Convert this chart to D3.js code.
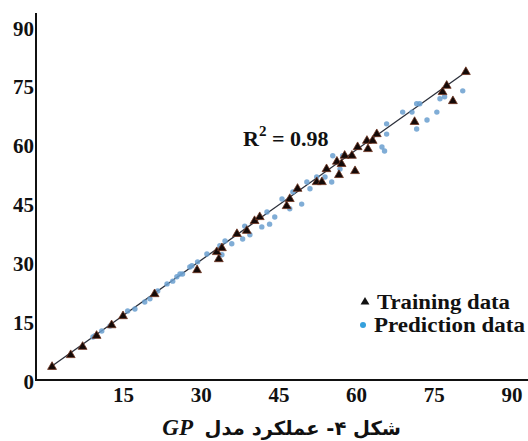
<!DOCTYPE html>
<html>
<head>
<meta charset="utf-8">
<script src="https://cdn.jsdelivr.net/npm/d3@7"></script>
<style>
  body { margin: 0; background: #fff; }
  svg { display: block; }
</style>
</head>
<body>
<div id="chart"></div>
<script>
// GP model performance: observed vs predicted
const xTicks = [15, 30, 45, 60, 75, 90];
const yTicks = [0, 15, 30, 45, 60, 75, 90];

// training data (triangles) [x, y]
const trainX = [1.2, 4.8, 7.1, 9.8, 12.7, 14.9, 21.0, 29.2, 33.0, 33.4, 34.0, 36.9, 38.8, 40.3, 41.3,
  46.5, 47.1, 48.6, 52.3, 53.3, 54.2, 56.2, 56.6, 57.1, 57.7, 59.1, 59.7, 60.2, 62.0, 62.2, 63.1, 63.9,
  71.2, 76.6, 77.4, 78.6, 81.1];
const trainY = [3.6, 6.6, 8.7, 11.5, 14.2, 16.5, 22.1, 28.2, 32.8, 31.0, 33.8, 37.4, 38.2, 40.7, 41.7,
  44.5, 46.3, 48.9, 50.6, 50.6, 53.9, 55.8, 52.4, 55.2, 57.3, 57.3, 53.4, 59.5, 61.1, 59.0, 61.1, 62.8,
  65.9, 73.5, 75.1, 71.2, 78.6];

// prediction data (dots)
const predX = [9.1, 9.5, 10.8, 12.4, 15.8, 17.2, 19.1, 20.1, 21.6, 23.4, 24.5, 25.3, 25.9, 26.4, 27.8,
  28.2, 29.3, 31.1, 33.6, 34.0, 34.6, 35.9, 38.0, 38.4, 39.4, 41.7, 42.7, 43.2, 44.2, 45.6, 47.1, 47.7,
  49.4, 50.4, 51.0, 52.3, 53.9, 55.2, 55.4, 56.8, 57.3, 64.9, 65.4, 65.8, 65.8, 68.9, 70.7, 71.6, 71.6,
  72.2, 73.6, 75.5, 76.1, 77.0, 80.5];
const predY = [11.2, 11.5, 12.7, 14.0, 17.8, 18.3, 20.1, 20.9, 22.9, 24.7, 25.4, 26.5, 27.2, 27.2, 29.0,
  29.3, 30.3, 32.3, 34.4, 32.1, 35.6, 34.9, 36.1, 39.4, 37.2, 39.2, 43.0, 39.9, 41.7, 46.3, 43.8, 48.1,
  45.0, 50.6, 48.9, 51.9, 51.9, 50.6, 57.3, 53.9, 57.3, 59.5, 58.5, 65.4, 62.8, 68.4, 68.4, 70.5, 64.1,
  70.5, 66.4, 68.4, 71.8, 72.3, 73.8];

// fitted line
const fitSlope = 0.936;
const fitIntercept = 2.68;
const fitRange = [1.2, 81.1];

const width = 528, height = 441;
const serif = "'Liberation Serif', 'Times New Roman', Times, serif";

const svg = d3.select("#chart").append("svg")
  .attr("width", width)
  .attr("height", height);

const x = d3.scaleLinear().domain([-1.9, 93.1]).range([36, 528]);
const y = d3.scaleLinear().domain([0, 93.6]).range([381, 13]);

// axes lines
svg.append("line")
  .attr("x1", 36).attr("x2", 36)
  .attr("y1", 13).attr("y2", 380.5)
  .attr("stroke", "#111").attr("stroke-width", 2);
svg.append("line")
  .attr("x1", 35).attr("x2", 528)
  .attr("y1", 380).attr("y2", 380)
  .attr("stroke", "#111").attr("stroke-width", 2);

function label(sel) {
  return sel.style("font-family", serif)
    .style("font-weight", "700")
    .style("font-size", "21px")
    .attr("fill", "#111");
}

svg.selectAll(".ytick")
  .data(yTicks)
  .enter()
  .append("text")
  .call(label)
  .attr("x", 34)
  .attr("y", d => y(d) + 1)
  .attr("dy", "0.35em")
  .attr("text-anchor", "end")
  .text(d => d);

svg.selectAll(".xtick")
  .data(xTicks)
  .enter()
  .append("text")
  .call(label)
  .attr("x", d => x(d))
  .attr("y", 402)
  .attr("text-anchor", "middle")
  .text(d => d);

// regression line
svg.append("line")
  .attr("x1", x(fitRange[0]))
  .attr("y1", y(fitSlope * fitRange[0] + fitIntercept))
  .attr("x2", x(fitRange[1]))
  .attr("y2", y(fitSlope * fitRange[1] + fitIntercept))
  .attr("stroke", "#2b2f3a")
  .attr("stroke-width", 1.3);

const pred = predX.map((v, i) => [v, predY[i]]);
const train = trainX.map((v, i) => [v, trainY[i]]);

svg.selectAll(".pred")
  .data(pred)
  .enter()
  .append("circle")
  .attr("cx", d => x(d[0]))
  .attr("cy", d => y(d[1]))
  .attr("r", 2.7)
  .attr("fill", "#6a9fcf")
  .attr("fill-opacity", 0.85);

const tri = d3.symbol().type(d3.symbolTriangle).size(34);

svg.selectAll(".train")
  .data(train)
  .enter()
  .append("path")
  .attr("d", tri)
  .attr("transform", d => `translate(${x(d[0])},${y(d[1])})`)
  .attr("fill", "#140a08")
  .attr("stroke", "#6e3420")
  .attr("stroke-width", 0.8);

// R^2 annotation
const r2 = svg.append("text")
  .call(label)
  .attr("x", 243)
  .attr("y", 146)
  .style("font-size", "22px");
r2.append("tspan").text("R");
r2.append("tspan").attr("dy", -10).style("font-size", "15px").text("2");
r2.append("tspan").attr("dy", 10).text(" = 0.98");

// legend
const legend = svg.append("g");
legend.append("path")
  .attr("d", d3.symbol().type(d3.symbolTriangle).size(34))
  .attr("transform", "translate(365,302)")
  .attr("fill", "#111");
legend.append("text").call(label).attr("x", 377).attr("y", 309)
  .style("font-size", "20px")
  .attr("textLength", 133).attr("lengthAdjust", "spacingAndGlyphs")
  .text("Training data");
legend.append("circle")
  .attr("cx", 363).attr("cy", 325).attr("r", 3)
  .attr("fill", "#35a0dc");
legend.append("text").call(label).attr("x", 374).attr("y", 332)
  .style("font-size", "20px")
  .attr("textLength", 151).attr("lengthAdjust", "spacingAndGlyphs")
  .text("Prediction data");

// caption
svg.append("text")
  .attr("x", 401)
  .attr("y", 435)
  .attr("text-anchor", "end")
  .style("font-family", "'DejaVu Sans', 'Noto Sans', sans-serif")
  .style("font-weight", "700")
  .style("font-size", "19.5px")
  .attr("fill", "#111")
  .text("شکل ۴- عملکرد مدل");
svg.append("text")
  .attr("x", 193)
  .attr("y", 435)
  .attr("text-anchor", "end")
  .style("font-family", serif)
  .style("font-weight", "700")
  .style("font-style", "italic")
  .style("font-size", "23px")
  .attr("fill", "#111")
  .text("GP");
</script>
</body>
</html>
